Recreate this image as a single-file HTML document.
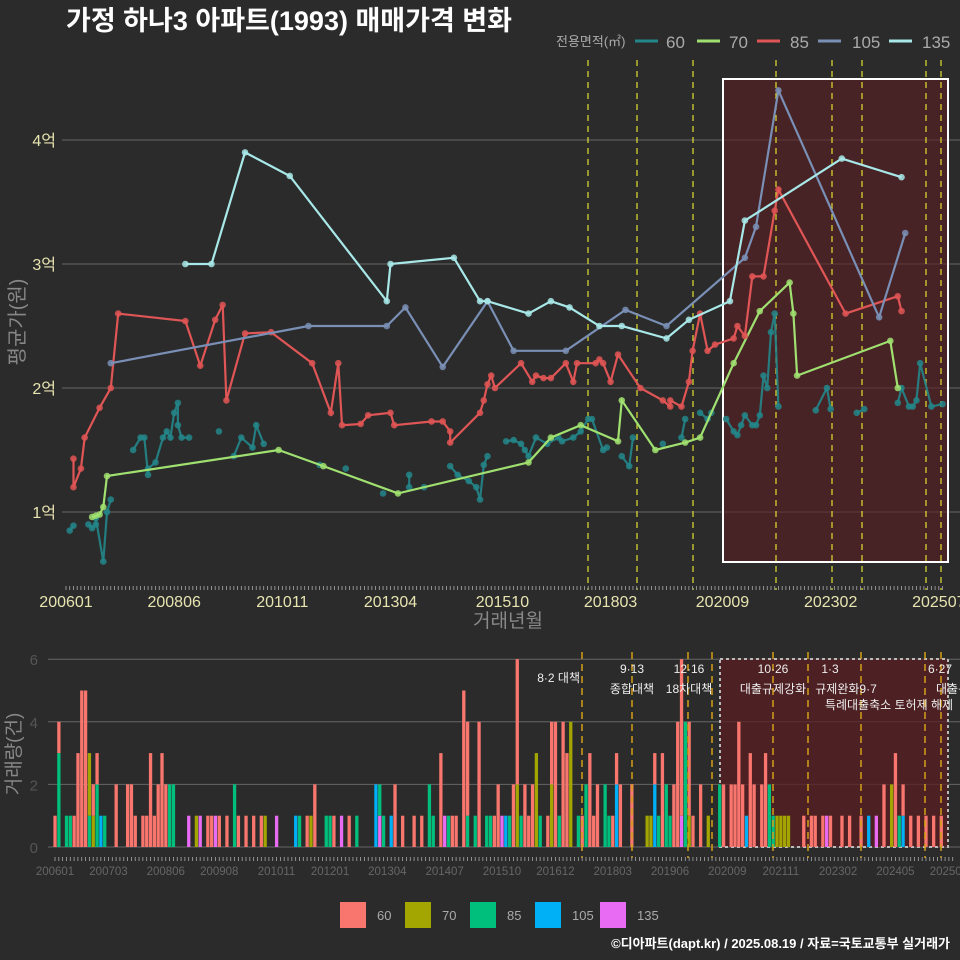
<!DOCTYPE html>
<html><head><meta charset="utf-8"><style>
html,body{margin:0;padding:0;background:#2b2b2b;}
svg{display:block;font-family:"Liberation Sans","Noto Sans CJK KR",sans-serif;}
</style></head><body>
<svg id="c" width="960" height="960" viewBox="0 0 960 960" xmlns="http://www.w3.org/2000/svg">
<rect width="960" height="960" fill="#2b2b2b"/>
<text x="66" y="30" fill="#ffffff" font-size="27" font-weight="bold">가정 하나3 아파트(1993) 매매가격 변화</text>
</svg>
<script>
// months since 2006-01
const m60=[1,2,6,7,8,8,10,11,12,18,20,21,22,22,24,26,27,28,29,30,30,31,33,41,45,47,50,51,53,68,75,85,92,92,96,103,105,108,110,111,112,113,118,120,122,123,124,126,129,132,133,136,138,140,141,144,145,149,151,152,160,165,166,170,172,173,177,179,180,181,182,184,185,186,187,188,189,190,191,201,204,205,212,214,223,224,226,227,228,229,232,235];
const v60=[0.85,0.89,0.9,0.87,0.9,0.95,0.6,1.0,1.1,1.5,1.6,1.6,1.3,1.35,1.4,1.6,1.65,1.6,1.8,1.88,1.7,1.6,1.6,1.65,1.45,1.6,1.52,1.7,1.55,1.38,1.35,1.15,1.3,1.2,1.2,1.37,1.3,1.25,1.2,1.1,1.38,1.45,1.57,1.58,1.55,1.5,1.45,1.6,1.55,1.6,1.57,1.6,1.65,1.75,1.75,1.5,1.52,1.45,1.37,1.6,1.55,1.6,1.75,1.8,1.75,1.8,1.75,1.65,1.62,1.7,1.78,1.7,1.7,1.78,2.1,2.0,2.45,2.6,1.85,1.82,2.0,1.83,1.8,1.83,1.88,2.0,1.85,1.85,1.9,2.2,1.85,1.87];
const m70=[7,8,9,10,11,57,69,89,124,130,138,148,149,158,166,170,179,186,194,195,196,221,223];
const v70=[0.96,0.97,0.98,1.04,1.29,1.5,1.37,1.15,1.4,1.6,1.7,1.57,1.9,1.5,1.56,1.6,2.2,2.62,2.85,2.6,2.1,2.38,2.0];
const m85=[2,2,4,5,9,12,14,32,36,40,42,43,48,55,66,71,73,74,79,81,87,88,98,101,103,103,111,112,113,114,115,122,125,126,128,130,134,136,137,142,143,144,146,148,154,160,162,162,165,167,168,170,172,174,179,180,182,184,187,190,191,209,223,224];
const v85=[1.43,1.2,1.35,1.6,1.84,2.0,2.6,2.54,2.18,2.55,2.67,1.9,2.44,2.45,2.2,1.8,2.2,1.7,1.71,1.78,1.8,1.7,1.73,1.73,1.65,1.56,1.8,1.9,2.03,2.1,2.0,2.2,2.05,2.1,2.08,2.08,2.2,2.05,2.2,2.2,2.23,2.2,2.05,2.27,2.0,1.9,1.85,1.9,1.85,2.05,2.3,2.6,2.3,2.35,2.4,2.5,2.42,2.9,2.9,3.43,3.6,2.6,2.74,2.62];
const m105=[12,65,86,91,101,113,120,134,150,161,182,185,191,218,225];
const v105=[2.2,2.5,2.5,2.65,2.17,2.7,2.3,2.3,2.63,2.5,3.05,3.3,4.4,2.57,3.25];
const m135=[32,39,48,60,86,87,104,111,113,124,130,135,143,149,161,167,178,182,208,224];
const v135=[3.0,3.0,3.9,3.71,2.7,3.0,3.05,2.7,2.7,2.6,2.7,2.65,2.5,2.5,2.4,2.55,2.7,3.35,3.85,3.7];
const yTicks=[1,2,3,4];
const yTickLabels=["1억","2억","3억","4억"];
const xTickMonths=[0,29,58,87,117,146,176,205,234];
const xTickLabels=["200601","200806","201011","201304","201510","201803","202009","202302","202507"];
// bar data: [month, count]
const b60=[[0,1],[1,1],[5,1],[6,3],[7,5],[8,5],[10,1],[11,1],[16,2],[19,2],[20,2],[21,1],[23,1],[24,1],[25,3],[26,1],[27,2],[28,3],[29,2],[40,1],[41,1],[43,1],[45,1],[48,1],[50,1],[52,1],[54,1],[66,1],[68,2],[73,1],[77,1],[89,2],[91,1],[94,1],[96,1],[101,3],[104,1],[105,1],[107,5],[108,3],[111,4],[115,1],[116,2],[120,2],[121,4],[123,2],[124,1],[125,2],[129,1],[130,2],[131,4],[133,4],[134,3],[138,1],[140,3],[141,1],[142,2],[146,1],[147,1],[148,2],[151,2],[157,1],[159,3],[162,2],[163,4],[164,5],[166,3],[167,1],[169,2],[175,2],[177,2],[178,2],[179,4],[180,2],[182,3],[183,2],[185,2],[186,3],[196,1],[198,1],[199,1],[201,1],[203,1],[206,1],[208,1],[211,1],[217,2],[220,3],[222,1],[224,1],[226,1],[228,1],[230,1],[232,1]];
const b70=[[9,2],[10,1],[37,1],[55,1],[67,1],[121,2],[126,3],[130,2],[135,4],[155,1],[156,1],[166,1],[171,1],[189,1],[190,1],[191,1],[192,1],[219,2]];
const b85=[[1,3],[3,1],[4,1],[9,1],[11,2],[13,1],[30,2],[31,2],[47,2],[64,1],[71,1],[72,1],[79,1],[85,1],[86,1],[98,2],[99,1],[103,1],[108,1],[110,1],[113,1],[114,1],[119,1],[122,1],[127,1],[132,1],[137,1],[139,2],[144,2],[145,1],[158,1],[160,2],[161,1],[165,4],[174,2],[187,2],[188,1],[221,1]];
const b105=[[12,1],[63,1],[84,2],[88,1],[118,1],[147,2],[157,2],[181,1],[213,1],[222,1]];
const b135=[[35,1],[38,1],[42,1],[58,1],[75,1],[85,1],[102,1],[117,1],[164,1],[202,1],[215,1]];
const barYTicks=[0,2,4,6];
const bxTickMonths=[0,14,29,43,58,72,87,102,117,131,146,161,176,190,205,220,234];
const bxTickLabels=["200601","200703","200806","200908","201011","201201","201304","201407","201510","201612","201803","201906","202009","202111","202302","202405","202507"];

const NS="http://www.w3.org/2000/svg";
const svg=document.getElementById('c');
function mk(tag,attrs,parent){const e=document.createElementNS(NS,tag);for(const k in attrs)e.setAttribute(k,attrs[k]);(parent||svg).appendChild(e);return e;}
const X=m=>66+3.73*m, Y=v=>512-(v-1)*124;
const BX=m=>55+3.82*m, BY=c=>847-c*31.3;

yTicks.forEach((t,i)=>{
 const l=mk('line',{x1:62,x2:960,y1:Y(t),y2:Y(t),stroke:'#666','stroke-width':1});
 
 
 const tx=mk('text',{x:56,y:Y(t)+6,fill:'#e8e4b0','font-size':16,'text-anchor':'end'});
 tx.textContent=yTickLabels[i];
 
 
});
const hb=mk('rect',{x:723,y:79,width:225,height:483,fill:'#5a1e22','fill-opacity':0.6,stroke:'#fff','stroke-width':2});


[588,637,693,776,832,862,926,941].forEach(x=>{
 const l=mk('line',{x1:x,x2:x,y1:60,y2:590,stroke:'#e0e030','stroke-width':1.2,'stroke-dasharray':'6,5'});
 
 
});
for(let m=0;m<=235;m++){mk('line',{x1:X(m),x2:X(m),y1:586,y2:590,stroke:'#aaa','stroke-width':0.8});}
xTickMonths.forEach((m,i)=>{
 const t=mk('text',{x:X(m),y:607,fill:'#e8e4b0','font-size':16,'text-anchor':'middle'});
 t.textContent=xTickLabels[i];
 
 
});
const xt=mk('text',{x:508,y:627,fill:'#888','font-size':19,'text-anchor':'middle'});xt.textContent='거래년월';


const yt=mk('text',{x:0,y:0,fill:'#888','font-size':20,'text-anchor':'middle',transform:'translate(24,322) rotate(-90)'});yt.textContent='평균가(원)';



function series(ms,vs,color,name,gapBreak,op){
 const g=mk('g',{});
 
 
 let d='';
 ms.forEach((m,i)=>{const cmd=(i===0||(gapBreak&&m-ms[i-1]>gapBreak))?'M':'L';d+=cmd+X(m).toFixed(1)+','+Y(vs[i]).toFixed(1)+' ';});
 const p=mk('path',{d:d,fill:'none',stroke:color,'stroke-width':2.2,'stroke-opacity':op},g);
 
 
 ms.forEach((m,i)=>{const c=mk('circle',{cx:X(m),cy:Y(vs[i]),r:3.3,fill:color,'fill-opacity':0.85},g);
  
  });
}
series(m60,v60,'#23868a','60',3,0.9);
series(m70,v70,'#a0e070','70',0,1);
series(m85,v85,'#e05555','85',0,1);
series(m105,v105,'#7a8fb5','105',0,1);
series(m135,v135,'#a8e8e8','135',0,1);

const lg=mk('g',{});


const lt=mk('text',{x:556,y:46,fill:'#aaa','font-size':13},lg);lt.textContent='전용면적(㎡)';
[['60',635,'#23868a',666],['70',697,'#a0e070',729],['85',757,'#e05555',790],['105',818,'#7a8fb5',852],['135',889,'#a8e8e8',922]].forEach(a=>{
 const e=mk('g',{},lg);
 
 
 mk('line',{x1:a[1],x2:a[1]+23,y1:41,y2:41,stroke:a[2],'stroke-width':3},e);
 const t=mk('text',{x:a[3],y:48,fill:'#aaa','font-size':17},e);t.textContent=a[0];
});

barYTicks.forEach(t=>{
 const l=mk('line',{x1:48,x2:960,y1:BY(t),y2:BY(t),stroke:'#666','stroke-width':1});
 
 
 const tx=mk('text',{x:38,y:BY(t)+6,fill:'#555','font-size':15,'text-anchor':'end'});tx.textContent=t;
 
 
});
const bh=mk('rect',{x:720,y:659,width:228,height:188,fill:'#5a1e22','fill-opacity':0.75,stroke:'#bbb','stroke-width':2,'stroke-dasharray':'3,3'});


const stack={};
const barSets=[[b135,'#e76bf3','135'],[b105,'#00b0f6','105'],[b85,'#00bf7d','85'],[b70,'#a3a500','70'],[b60,'#f8766d','60']];
barSets.forEach(([arr,col,name])=>{
 arr.forEach(([m,c])=>{
  const base=stack[m]||0;
  const r=mk('rect',{x:BX(m)-1.6,y:BY(base+c),width:3.3,height:c*31.3,fill:col});
  
  
  stack[m]=base+c;
 });
});
[582,632,688,712,773,808,861,925,941].forEach(x=>{
 const l=mk('line',{x1:x,x2:x,y1:652,y2:858,stroke:'#d4a017','stroke-width':1.5,'stroke-dasharray':'7,5'});
 
 
});
[['8·2 대책',580,682,'end'],['9·13',632,673,'middle'],['종합대책',632,693,'middle'],['12·16',689,673,'middle'],['18차대책',689,693,'middle'],['10·26',773,673,'middle'],['대출규제강화',773,693,'middle'],['1·3',830,673,'middle'],['규제완화9·7',846,693,'middle'],['특례대출축소 토허제 해제',889,709,'middle'],['6·27',940,673,'middle'],['대출규',936,693,'start']].forEach(a=>{
 const t=mk('text',{x:a[1],y:a[2],fill:'#eee','font-size':12,'text-anchor':a[3]});t.textContent=a[0];
 
 
});
for(let m=0;m<=235;m++){mk('line',{x1:BX(m),x2:BX(m),y1:857,y2:861,stroke:'#aaa','stroke-width':0.8});}
bxTickMonths.forEach((m,i)=>{
 const t=mk('text',{x:BX(m),y:875,fill:'#666','font-size':11.5,'text-anchor':'middle'});t.textContent=bxTickLabels[i];
 
 
});
const byt=mk('text',{x:0,y:0,fill:'#888','font-size':19,'text-anchor':'middle',transform:'translate(20,754) rotate(-90)'});byt.textContent='거래량(건)';


[['60','#f8766d',340],['70','#a3a500',405],['85','#00bf7d',470],['105','#00b0f6',535],['135','#e76bf3',600]].forEach(a=>{
 const g=mk('g',{});
 
 
 mk('rect',{x:a[2],y:902,width:26,height:26,fill:a[1]},g);
 const t=mk('text',{x:a[2]+37,y:920,fill:'#aaa','font-size':13},g);t.textContent=a[0];
});
const cr=mk('text',{x:950,y:948,fill:'#fff','font-size':13,'font-weight':'bold','text-anchor':'end'});cr.textContent='©디아파트(dapt.kr) / 2025.08.19 / 자료=국토교통부 실거래가';


</script>
</body></html>
